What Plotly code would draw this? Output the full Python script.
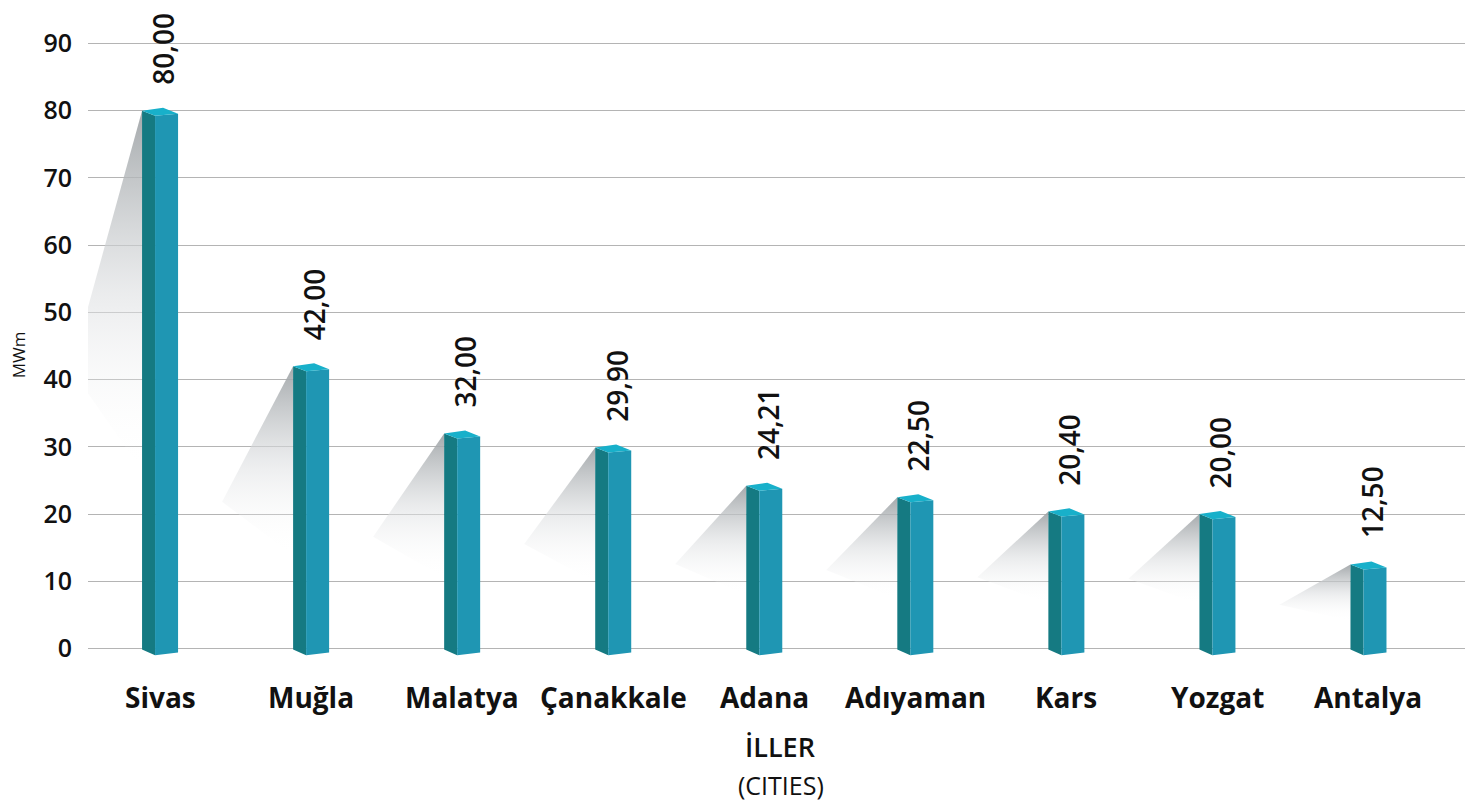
import plotly.graph_objects as go

cities = ["Sivas", "Muğla", "Malatya", "Çanakkale", "Adana", "Adıyaman", "Kars", "Yozgat", "Antalya"]
values = [80.00, 42.00, 32.00, 29.90, 24.21, 22.50, 20.40, 20.00, 12.50]
value_labels = ["80,00", "42,00", "32,00", "29,90", "24,21", "22,50", "20,40", "20,00", "12,50"]
y_ticks = [0, 10, 20, 30, 40, 50, 60, 70, 80, 90]

DARK = "rgb(21,122,130)"
LIGHT = "rgb(31,150,179)"
CAP = "rgb(24,176,202)"
FONT = "Open Sans"

PX = 151.0  # pixels per category step (used for face geometry)
dl, df, dr, db = -18 / PX, -5 / PX, 18 / PX, 3 / PX

fig = go.Figure()

# shadows
for i, v in enumerate(values):
    xs = [i + dl, i + dl - 0.47, i + dl, i + dl]
    ys = [v, v * 0.52, v * 0.33, v]
    fig.add_trace(go.Scatter(
        x=xs, y=ys, mode="lines", line=dict(width=0), fill="toself",
        fillgradient=dict(type="vertical",
                          colorscale=[[0, "rgba(255,255,255,0)"], [0.5, "rgba(220,222,224,0.6)"], [1, "rgba(155,160,163,0.9)"]]),
        hoverinfo="skip", showlegend=False))

# 3D bars
for i, v in enumerate(values):
    fig.add_trace(go.Scatter(
        x=[i + dl, i + dl, i + df, i + df, i + dl],
        y=[-0.15, v, v - 0.75, -1.0, -0.15],
        mode="lines", line=dict(width=0), fill="toself", fillcolor=DARK,
        hoverinfo="skip", showlegend=False))
    fig.add_trace(go.Scatter(
        x=[i + df, i + df, i + dr, i + dr, i + df],
        y=[-1.0, v - 0.75, v - 0.45, -0.6, -1.0],
        mode="lines", line=dict(width=0), fill="toself", fillcolor=LIGHT,
        hoverinfo="skip", showlegend=False))
    fig.add_trace(go.Scatter(
        x=[i + dl, i + db, i + dr, i + df, i + dl],
        y=[v, v + 0.45, v - 0.45, v - 0.75, v],
        mode="lines", line=dict(width=0), fill="toself", fillcolor=CAP,
        hoverinfo="skip", showlegend=False))

annotations = []
for i, (v, lab) in enumerate(zip(values, value_labels)):
    annotations.append(dict(x=i + 0.02, y=v, text=lab, showarrow=False, textangle=-90,
                            yanchor="bottom", xanchor="center", yshift=24,
                            font=dict(family=FONT, size=28, color="#111", weight=600)))
for i, c in enumerate(cities):
    annotations.append(dict(x=i, y=0, text=c, showarrow=False, yanchor="middle",
                            xanchor="center", yshift=-48,
                            font=dict(family=FONT, size=28, color="#111", weight=700)))
annotations.append(dict(xref="paper", yref="paper", x=0.503, y=-0.134, text="İLLER", showarrow=False,
                        xanchor="center", yanchor="middle",
                        font=dict(family=FONT, size=27, color="#111", weight=600)))
annotations.append(dict(xref="paper", yref="paper", x=0.503, y=-0.194, text="(CITIES)", showarrow=False,
                        xanchor="center", yanchor="middle",
                        font=dict(family=FONT, size=25, color="#111", weight=400)))
annotations.append(dict(xref="paper", yref="y", x=-0.0505, y=43.7, text="MWm", showarrow=False,
                        textangle=-90, xanchor="center", yanchor="middle",
                        font=dict(family=FONT, size=17, color="#111")))

# page body has an 8px margin: shrink the figure so it fits the 1473x808 window
fig.update_layout(
    width=1465, height=800,
    margin=dict(l=80, r=8, t=21.5, b=145.5),
    plot_bgcolor="white", paper_bgcolor="white",
    showlegend=False,
    annotations=annotations,
    xaxis=dict(range=[-0.477, 8.639], showgrid=False, zeroline=False, showticklabels=False,
               showline=False, fixedrange=True),
    yaxis=dict(range=[-2, 92], tickvals=y_ticks, ticktext=[str(t) for t in y_ticks],
               showgrid=True, gridcolor="#b4b4b4", gridwidth=1, zeroline=False,
               showline=False, ticklabelstandoff=15,
               tickfont=dict(family=FONT, size=25, color="#111", weight=600)),
)

fig.write_html("out.html")
